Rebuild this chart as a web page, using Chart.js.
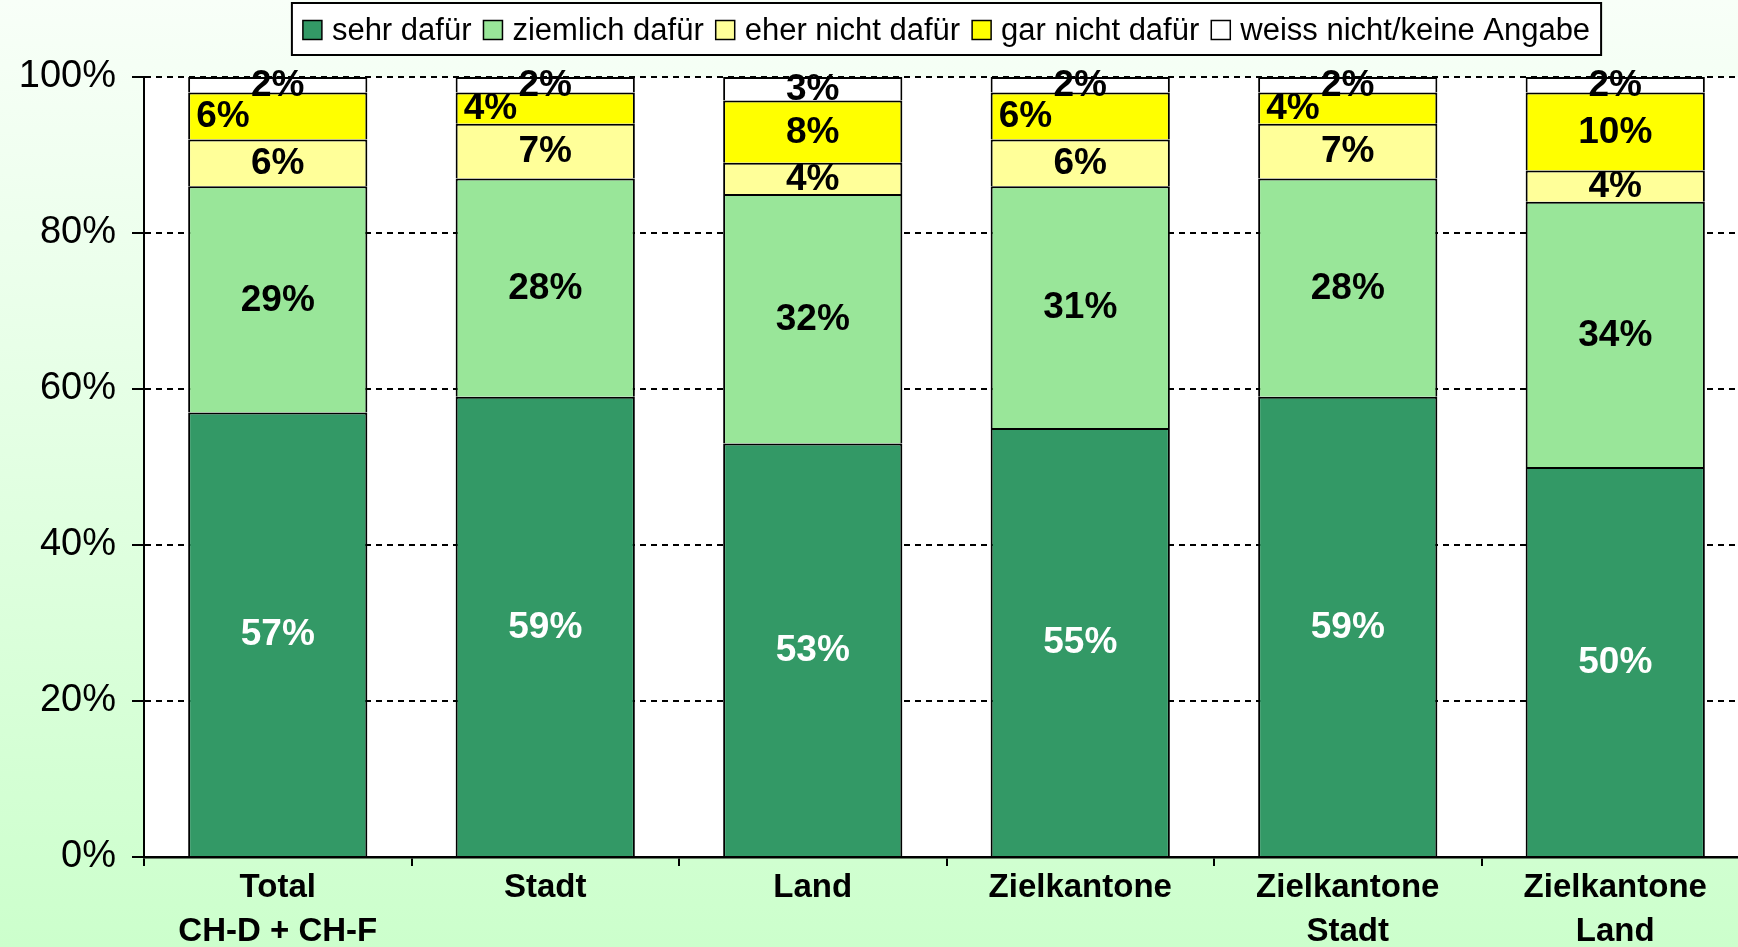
<!DOCTYPE html>
<html>
<head>
<meta charset="utf-8">
<script src="https://cdn.jsdelivr.net/npm/chart.js@4.4.0/dist/chart.umd.min.js"></script>
<style>
    html, body { margin: 0; padding: 0; overflow: hidden; }
    #wrap { width: 1750px; height: 947px; position: relative; }
</style>
</head>
<body>
<div id="wrap"><canvas id="canvas"></canvas></div>
<script>
const categories = [['Total', 'CH-D + CH-F'], 'Stadt', 'Land', 'Zielkantone', ['Zielkantone', 'Stadt'], ['Zielkantone', 'Land']];
const seriesNames = ['sehr dafür', 'ziemlich dafür', 'eher nicht dafür', 'gar nicht dafür', 'weiss nicht/keine Angabe'];
const sehrDafuer = [57, 59, 53, 55, 59, 50];
const ziemlichDafuer = [29, 28, 32, 31, 28, 34];
const eherNichtDafuer = [6, 7, 4, 6, 7, 4];
const garNichtDafuer = [6, 4, 8, 6, 4, 10];
const weissNicht = [2, 2, 3, 2, 2, 2];
const yMax = 100;
const yStep = 20;

const colors = ['#339966', '#99E699', '#FFFF99', '#FFFF00', '#FFFFFF'];
const FONT = '"Liberation Sans", Arial, sans-serif';

document.addEventListener('DOMContentLoaded', () => {
    const seriesValues = [sehrDafuer, ziemlichDafuer, eherNichtDafuer, garNichtDafuer, weissNicht];

    // labels of the "gar nicht dafür" segment sit at the left edge in these bars
    const leftLabelBars = [0, 1, 3, 4];

    const background = {
        id: 'background',
        beforeDraw(chart) {
            const { ctx, width, height, chartArea } = chart;
            ctx.save();
            const grad = ctx.createLinearGradient(0, 0, 0, height);
            grad.addColorStop(0, '#f8fff8');
            grad.addColorStop(1, '#ccffcc');
            ctx.fillStyle = grad;
            ctx.fillRect(0, 0, width, height);
            ctx.fillStyle = '#ffffff';
            ctx.fillRect(chartArea.left, chartArea.top, chartArea.right - chartArea.left, chartArea.bottom - chartArea.top);
            ctx.restore();
        }
    };

    const valueLabels = {
        id: 'valueLabels',
        afterDatasetsDraw(chart) {
            const ctx = chart.ctx;
            ctx.save();
            ctx.font = 'bold 37px ' + FONT;
            ctx.textBaseline = 'middle';
            chart.data.datasets.forEach((ds, i) => {
                const meta = chart.getDatasetMeta(i);
                meta.data.forEach((bar, j) => {
                    const y = (bar.y + bar.base) / 2 + 1;
                    ctx.fillStyle = i === 0 ? '#ffffff' : '#000000';
                    if (i === 3 && leftLabelBars.includes(j)) {
                        ctx.textAlign = 'left';
                        ctx.fillText(ds.data[j] + '%', bar.x - bar.width / 2 + 8, y);
                    } else {
                        ctx.textAlign = 'center';
                        ctx.fillText(ds.data[j] + '%', bar.x, y);
                    }
                });
            });
            ctx.restore();
        }
    };

    const legendBox = {
        id: 'legendBox',
        afterDraw(chart) {
            const ctx = chart.ctx;
            const box = 19, gap = 10, itemGap = 12, pad = 11;
            ctx.save();
            ctx.font = '31px ' + FONT;
            const widths = seriesNames.map(n => ctx.measureText(n).width);
            const inner = widths.reduce((s, w) => s + box + gap + w, 0) + itemGap * (widths.length - 1);
            const cx = (chart.chartArea.left + chart.chartArea.right) / 2;
            const left = cx - inner / 2 - pad;
            const top = 3, h = 52;
            ctx.fillStyle = '#ffffff';
            ctx.fillRect(left, top, inner + pad * 2, h);
            ctx.strokeStyle = '#000000';
            ctx.lineWidth = 2;
            ctx.strokeRect(left, top, inner + pad * 2, h);

            const midY = top + h / 2 + 1;
            let x = left + pad;
            ctx.textBaseline = 'middle';
            ctx.textAlign = 'left';
            seriesNames.forEach((name, i) => {
                ctx.fillStyle = colors[i];
                ctx.fillRect(x, midY - box / 2, box, box);
                ctx.lineWidth = 1.5;
                ctx.strokeStyle = '#000000';
                ctx.strokeRect(x, midY - box / 2, box, box);
                x += box + gap;
                ctx.fillStyle = '#000000';
                ctx.fillText(name, x, midY + 1);
                x += widths[i] + itemGap;
            });
            ctx.restore();
        }
    };

    const chart = new Chart(document.getElementById('canvas'), {
        type: 'bar',
        data: {
            labels: categories,
            datasets: seriesNames.map((name, i) => ({
                label: name,
                data: seriesValues[i],
                backgroundColor: colors[i],
                borderColor: '#000000',
                borderWidth: 2,
                barPercentage: 0.67,
                categoryPercentage: 1,
            })),
        },
        plugins: [background, valueLabels, legendBox],
        options: {
            responsive: true,
            maintainAspectRatio: false,
            animation: false,
            layout: {
                padding: { top: 77, right: 1, left: 0, bottom: 0 },
            },
            plugins: {
                legend: { display: false },
                tooltip: { enabled: false },
            },
            scales: {
                x: {
                    stacked: true,
                    afterFit: (scale) => { scale.height = 90; },
                    grid: {
                        display: true,
                        drawOnChartArea: false,
                        drawTicks: true,
                        tickLength: 9,
                        color: '#000000',
                        lineWidth: 2,
                    },
                    border: { display: true, color: '#000000', width: 2.5 },
                    ticks: {
                        color: '#000000',
                        padding: 0,
                        maxRotation: 0,
                        font: { family: FONT, size: 33, weight: 'bold', lineHeight: 1.33 },
                    },
                },
                y: {
                    stacked: true,
                    min: 0,
                    max: yMax,
                    afterFit: (scale) => { scale.width = 144; },
                    grid: {
                        color: '#000000',
                        lineWidth: 2,
                        tickLength: 12,
                        tickWidth: 2,
                        tickColor: '#000000',
                    },
                    border: { display: true, color: '#000000', width: 2, dash: [6, 5] },
                    ticks: {
                        stepSize: yStep,
                        color: '#000000',
                        padding: 16,
                        font: { family: FONT, size: 38 },
                        callback: (v) => v + '%',
                    },
                },
            },
        },
    });
});
</script>
</body>
</html>
